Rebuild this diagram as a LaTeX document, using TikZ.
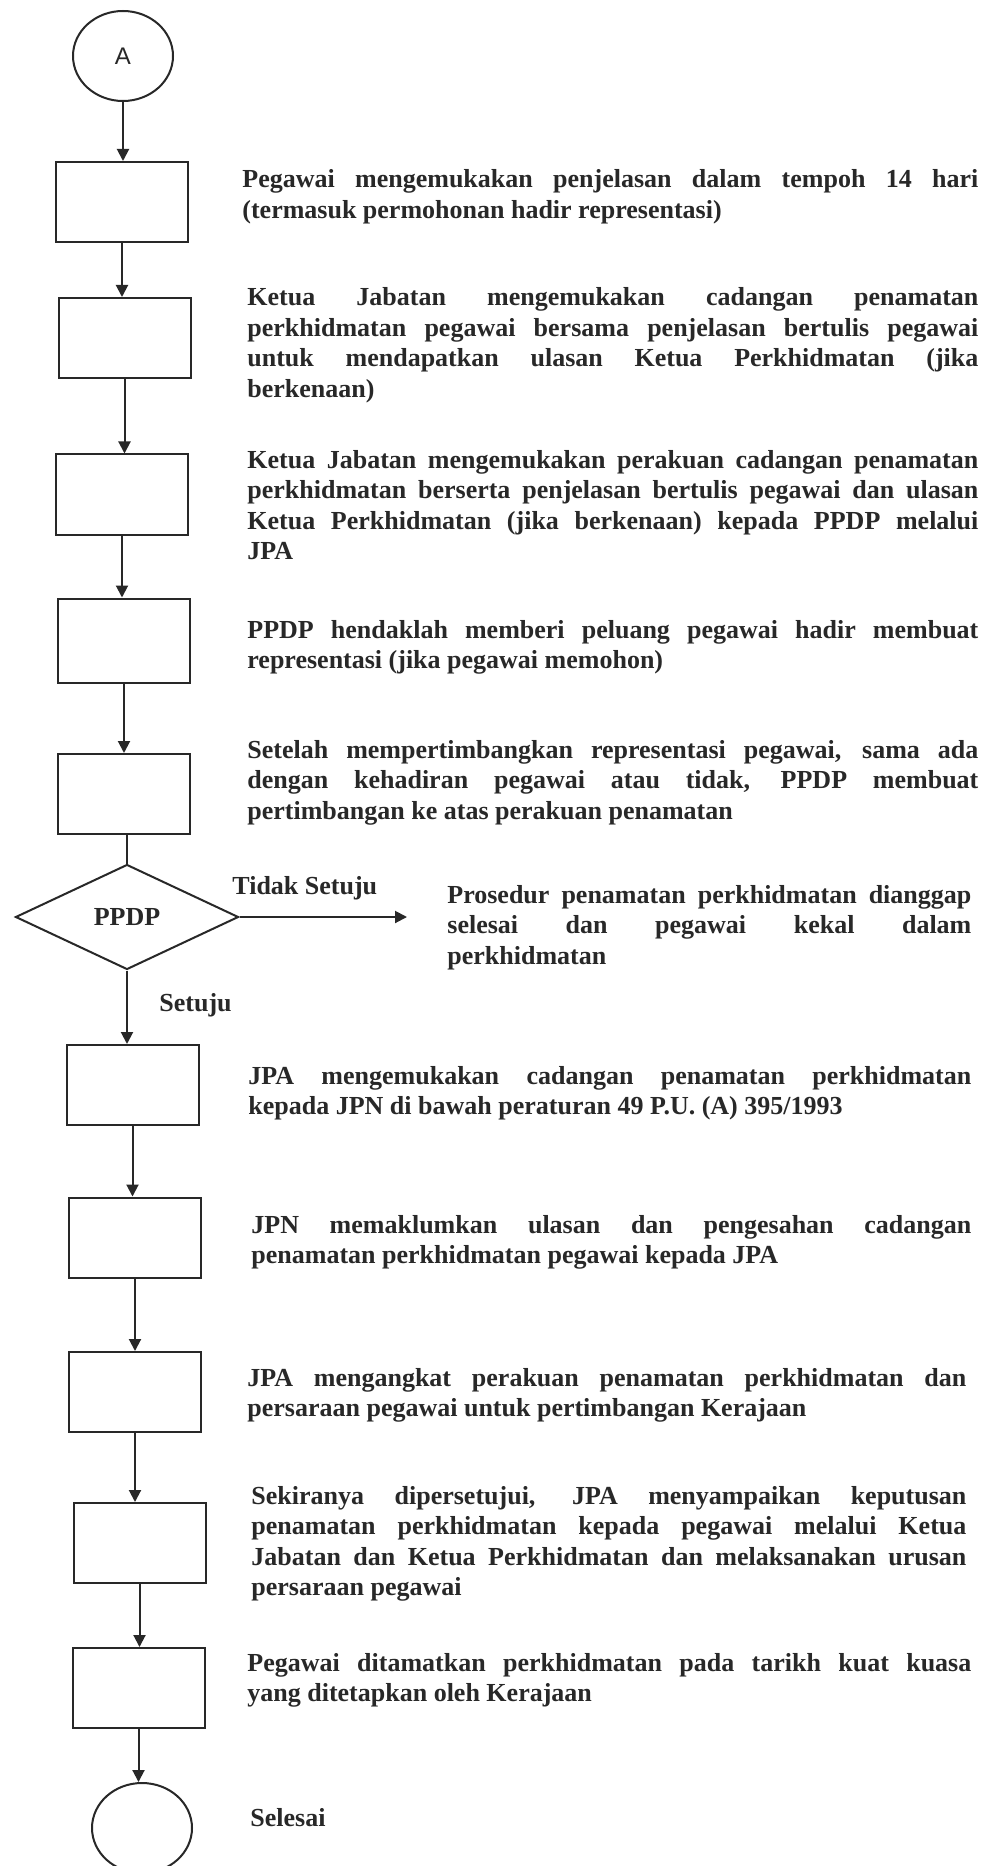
\documentclass[tikz,border=0pt]{standalone}
\usepackage{fontspec}
\setmainfont{Liberation Serif}
\newfontfamily\arialfont{Liberation Sans}
\usetikzlibrary{shapes.geometric,arrows.meta}
\definecolor{ink}{RGB}{40,40,40}
\hyphenpenalty=10000
\exhyphenpenalty=10000
\tikzset{
  base/.style={draw=ink, line width=1pt},
  stepbox/.style={base, rectangle, minimum width=66pt, minimum height=40pt, inner sep=0pt},
  term/.style={base, ellipse, minimum width=50pt, minimum height=45pt, inner sep=0pt},
  dec/.style={base, diamond, minimum width=111.5pt, minimum height=52.5pt, inner sep=0pt, font=\fontsize{13}{15.25}\selectfont\bfseries, text=ink},
  arr/.style={base, -{Triangle[length=6pt,width=6pt]}},
  plain/.style={base},
  desc/.style={anchor=base west, inner sep=0pt, text width=#1, align=justify, text=ink, font=\fontsize{13}{15.25}\selectfont\bfseries},
  lbl/.style={anchor=base west, inner sep=0pt, text=ink, font=\fontsize{13}{15.25}\selectfont\bfseries}
}
\begin{document}
\begin{tikzpicture}[x=0.5pt,y=-0.5pt]
\useasboundingbox (0,0) rectangle (998,1866);
\clip (0,0) rectangle (998,1866);
\fill[white] (0,0) rectangle (998,1866);

% flow shapes
\node[term, font=\arialfont\fontsize{12}{14}\selectfont, text=ink] (A) at (123,56) {A};
\node[stepbox] (b1) at (122,202) {};
\node[stepbox] (b2) at (124.5,338) {};
\node[stepbox] (b3) at (122,494.5) {};
\node[stepbox, minimum height=42pt] (b4) at (124,640.5) {};
\node[stepbox] (b5) at (123.5,794) {};
\node[dec] (d) at (127,917) {PPDP};
\coordinate (ts) at (407,917);
\node[stepbox] (b6) at (132.5,1085) {};
\node[stepbox] (b7) at (135,1237.5) {};
\node[stepbox] (b8) at (135,1392) {};
\node[stepbox] (b9) at (139.5,1543) {};
\node[stepbox] (b10) at (138.5,1688) {};
\node[term] (E) at (142,1828) {};

% connectors
\draw[arr] (A.south) -- (A.south |- b1.north);
\draw[arr] (b1.south) -- (b1.south |- b2.north);
\draw[arr] (b2.south) -- (b2.south |- b3.north);
\draw[arr] (b3.south) -- (b3.south |- b4.north);
\draw[arr] (b4.south) -- (b4.south |- b5.north);
\draw[plain] (d.north |- b5.south) -- (d.north);
\draw[arr] (d.east) -- (ts);
\draw[arr] (d.south) -- (d.south |- b6.north);
\draw[arr] (b6.south) -- (b6.south |- b7.north);
\draw[arr] (b7.south) -- (b7.south |- b8.north);
\draw[arr] (b8.south) -- (b8.south |- b9.north);
\draw[arr] (b9.south) -- (b9.south |- b10.north);
\draw[arr] (b10.south) -- (b10.south |- E.north);

% labels
\node[lbl] (tidak) at (232,894) {Tidak Setuju};
\node[lbl] (setuju) at (159,1011) {Setuju};

% descriptions
\node[desc=368pt] (t1) at (242,188) {Pegawai mengemukakan penjelasan dalam tempoh 14 hari\linebreak (termasuk permohonan hadir representasi)};
\node[desc=365.5pt] (t2) at (247,306) {Ketua Jabatan mengemukakan cadangan penamatan\linebreak perkhidmatan pegawai bersama penjelasan bertulis pegawai\linebreak untuk mendapatkan ulasan Ketua Perkhidmatan (jika\linebreak berkenaan)};
\node[desc=365.5pt] (t3) at (247,468) {Ketua Jabatan mengemukakan perakuan cadangan penamatan\linebreak perkhidmatan berserta penjelasan bertulis pegawai dan ulasan\linebreak Ketua Perkhidmatan (jika berkenaan) kepada PPDP melalui\linebreak JPA};
\node[desc=365.5pt] (t4) at (247,638) {PPDP hendaklah memberi peluang pegawai hadir membuat\linebreak representasi (jika pegawai memohon)};
\node[desc=365.5pt] (t5) at (247,758) {Setelah mempertimbangkan representasi pegawai, sama ada\linebreak dengan kehadiran pegawai atau tidak, PPDP membuat\linebreak pertimbangan ke atas perakuan penamatan};
\node[desc=262pt] (t6) at (447,903) {Prosedur penamatan perkhidmatan dianggap\linebreak selesai dan pegawai kekal dalam\linebreak perkhidmatan};
\node[desc=361.5pt] (t7) at (248,1084) {JPA mengemukakan cadangan penamatan perkhidmatan\linebreak kepada JPN di bawah peraturan 49 P.U. (A) 395/1993};
\node[desc=360pt] (t8) at (251,1233) {JPN memaklumkan ulasan dan pengesahan cadangan\linebreak penamatan perkhidmatan pegawai kepada JPA};
\node[desc=359.5pt] (t9) at (247,1386) {JPA mengangkat perakuan penamatan perkhidmatan dan\linebreak persaraan pegawai untuk pertimbangan Kerajaan};
\node[desc=357.5pt] (t10) at (251,1504) {Sekiranya dipersetujui, JPA menyampaikan keputusan\linebreak penamatan perkhidmatan kepada pegawai melalui Ketua\linebreak Jabatan dan Ketua Perkhidmatan dan melaksanakan urusan\linebreak persaraan pegawai};
\node[desc=362pt] (t11) at (247,1671) {Pegawai ditamatkan perkhidmatan pada tarikh kuat kuasa\linebreak yang ditetapkan oleh Kerajaan};
\node[lbl] (t12) at (250,1826) {Selesai};
\end{tikzpicture}
\end{document}
